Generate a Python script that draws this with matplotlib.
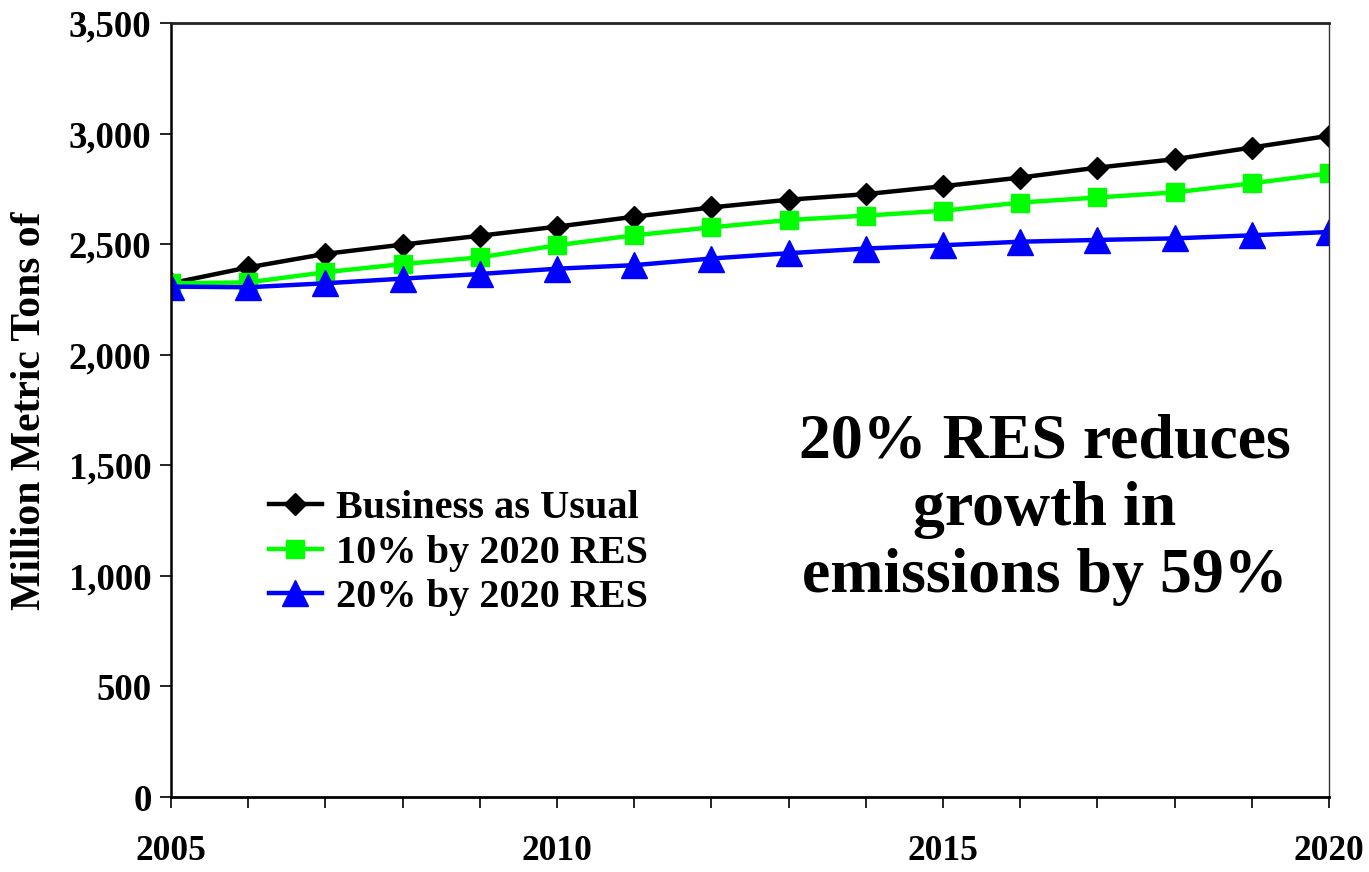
import matplotlib
matplotlib.use("Agg")
import matplotlib.pyplot as plt
from matplotlib.ticker import FixedLocator, FuncFormatter
from matplotlib.transforms import Bbox

years = list(range(2005, 2021))
business_as_usual = [2323, 2395, 2456, 2498, 2538, 2579, 2624, 2666, 2701, 2726,
                     2762, 2801, 2846, 2884, 2937, 2990]
res_10 = [2323, 2327, 2373, 2410, 2440, 2495, 2540, 2576, 2609, 2629,
          2651, 2688, 2711, 2734, 2775, 2820]
res_20 = [2308, 2305, 2323, 2344, 2365, 2389, 2405, 2435, 2459, 2480,
          2495, 2511, 2519, 2526, 2540, 2555]
series_labels = ["Business as Usual", "10% by 2020 RES", "20% by 2020 RES"]
y_ticks = [0, 500, 1000, 1500, 2000, 2500, 3000, 3500]
x_label_years = [2005, 2010, 2015, 2020]
y_title = "Million Metric Tons of CO2"
note = "20% RES reduces\ngrowth in\nemissions by 59%"

W, H = 1369, 872
fig = plt.figure(figsize=(W / 100, H / 100), dpi=100)
ax = fig.add_axes([171 / W, 1 - 797 / H, (1329 - 171) / W, (797 - 23) / H])

serif = "Liberation Serif"

ax.plot(years, business_as_usual, color="black", lw=3.2, marker="D", ms=11,
        mfc="black", mec="black", label=series_labels[0], zorder=3)
ax.plot(years, res_10, color="#00FF00", lw=3.2, marker="s", ms=13.5,
        mfc="#00FF00", mec="#00FF00", label=series_labels[1], zorder=4)
ax.plot(years, res_20, color="#0000FF", lw=3.2, marker="^", ms=18.5,
        mfc="#0000FF", mec="#0000FF", label=series_labels[2], zorder=5)

ax.set_xlim(2005, 2020)
ax.set_ylim(0, 3500)

ax.yaxis.set_major_locator(FixedLocator(y_ticks))
ax.yaxis.set_major_formatter(FuncFormatter(lambda v, p: f"{int(v):,}"))
ax.xaxis.set_major_locator(FixedLocator(x_label_years))
ax.xaxis.set_minor_locator(FixedLocator(years))
ax.xaxis.set_major_formatter(FuncFormatter(lambda v, p: f"{int(v)}"))

for lab in ax.get_yticklabels():
    lab.set_fontfamily(serif)
    lab.set_fontweight("bold")
    lab.set_fontsize(26.5)
for lab in ax.get_xticklabels():
    lab.set_fontfamily(serif)
    lab.set_fontweight("bold")
    lab.set_fontsize(25.5)

ax.tick_params(axis="y", which="major", direction="out", length=8, width=1.2,
               pad=6, color="black")
ax.tick_params(axis="x", which="both", direction="out", length=8, width=1.2,
               pad=19, color="black")

ax.spines["left"].set_linewidth(1.8)
ax.spines["bottom"].set_linewidth(2.0)
ax.spines["top"].set_linewidth(2.0)
ax.spines["top"].set_color("#222222")
ax.spines["right"].set_linewidth(1.0)
ax.spines["right"].set_color("#333333")
for s in ax.spines.values():
    s.set_zorder(6)

# rotated axis title, cut off at the top
t = fig.text(30 / W, 1 - 610 / H, y_title, rotation=90, ha="center", va="bottom",
             fontfamily=serif, fontweight="bold", fontsize=30)
t.set_clip_on(True)
t.set_clip_box(Bbox([[0, 0], [W, H - 202]]))

leg = ax.legend(loc="upper left", bbox_to_anchor=(249 / W, 1 - 470 / H),
                bbox_transform=fig.transFigure, frameon=False,
                prop={"family": serif, "weight": "bold", "size": 29},
                handlelength=1.3, handletextpad=0.35, labelspacing=0.18,
                borderpad=0, markerscale=1.0)
for txt in leg.get_texts():
    txt.set_color("black")

fig.text(1045 / W, 1 - 510 / H, note, ha="center", va="center",
         fontfamily=serif, fontweight="bold", fontsize=46, linespacing=1.21,
         transform=fig.transFigure)

fig.savefig("out.png", dpi=100)
